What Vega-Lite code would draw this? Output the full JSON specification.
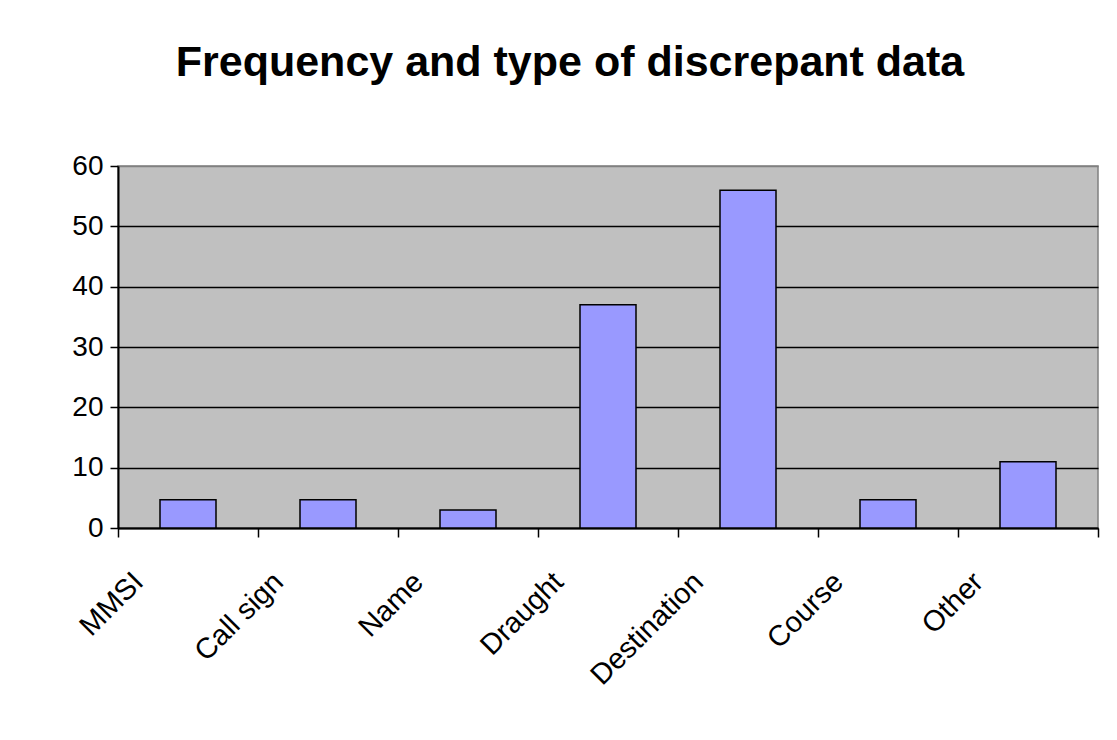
{
  "$schema": "https://vega.github.io/schema/vega-lite/v6.json",
  "width": 980,
  "height": 362,
  "autosize": "none",
  "padding": {"left": 118, "top": 166, "right": 19, "bottom": 212},
  "background": "white",
  "title": {
    "text": "Frequency and type of discrepant data",
    "font": "Liberation Sans",
    "fontSize": 43,
    "fontWeight": "bold",
    "color": "black",
    "anchor": "middle",
    "frame": "group",
    "baseline": "alphabetic",
    "offset": 33,
    "dx": -38
  },
  "data": {
    "values": [
      {"type": "MMSI", "count": 4.7},
      {"type": "Call sign", "count": 4.7},
      {"type": "Name", "count": 3},
      {"type": "Draught", "count": 37},
      {"type": "Destination", "count": 56},
      {"type": "Course", "count": 4.7},
      {"type": "Other", "count": 11}
    ]
  },
  "mark": {"type": "bar", "color": "#9999FF", "stroke": "black", "strokeWidth": 1.5},
  "encoding": {
    "x": {
      "field": "type",
      "type": "nominal",
      "sort": null,
      "scale": {"paddingInner": 0.6, "paddingOuter": 0.3},
      "axis": {
        "title": null,
        "labelAngle": -45,
        "labelAlign": "right",
        "labelBaseline": "middle",
        "labelFont": "Liberation Sans",
        "labelFontSize": 29,
        "labelColor": "black",
        "labelPadding": 40,
        "labelOffset": -8,
        "bandPosition": 2.5,
        "tickExtra": true,
        "tickOffset": -42,
        "tickColor": "black",
        "tickSize": 9,
        "tickWidth": 1.5,
        "domainColor": "black",
        "domainWidth": 2,
        "grid": false
      }
    },
    "y": {
      "field": "count",
      "type": "quantitative",
      "scale": {"domain": [0, 60], "nice": false},
      "axis": {
        "title": null,
        "values": [0, 10, 20, 30, 40, 50, 60],
        "labelFont": "Liberation Sans",
        "labelFontSize": 28,
        "labelColor": "black",
        "labelPadding": 7,
        "tickColor": "black",
        "tickSize": 8,
        "tickWidth": 1.5,
        "domainColor": "black",
        "domainWidth": 2,
        "grid": true,
        "gridColor": {"condition": {"test": "datum.value === 60", "value": "#808080"}, "value": "black"},
        "gridWidth": 1.5,
        "gridOpacity": 1
      }
    }
  },
  "config": {
    "view": {"fill": "#C0C0C0", "stroke": "#808080", "strokeWidth": 1.5}
  }
}
